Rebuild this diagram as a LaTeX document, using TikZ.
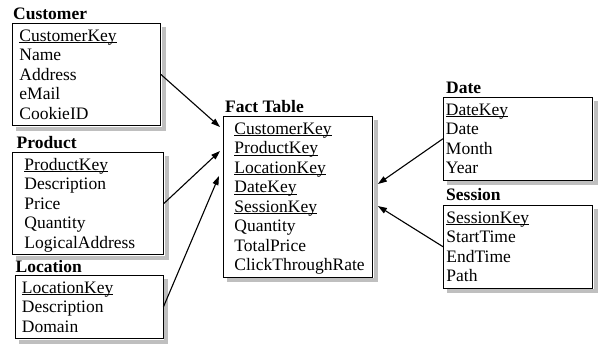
\documentclass[tikz,border=0pt]{standalone}
\usepackage{fontspec}
\setmainfont{Liberation Serif}
\usetikzlibrary{arrows.meta,calc}

\newcommand{\keyattr}[1]{\leavevmode\setbox0\hbox{#1}\rlap{\rule[-1.6bp]{\wd0}{0.8bp}}\box0}
\newcommand{\fstline}{\rule{0pt}{18bp}}
\newcommand{\lstline}{\rule[-6bp]{0pt}{6bp}}

\begin{document}
\begin{tikzpicture}[x=1bp,y=-1bp,
    tbl/.style = {draw, fill=white, line width=0.9bp, anchor=north west, align=left,
      inner ysep=0pt, font=\fontsize{17.5bp}{19.5bp}\selectfont},
    title/.style = {anchor=base west, inner sep=0pt, font=\fontsize{17.5bp}{19.5bp}\selectfont\bfseries},
    shadowfill/.style = {fill=black!25, draw=none},
    link/.style = {line width=1.1bp, -{Triangle[length=9bp,width=6bp]}}]
      \useasboundingbox (0,0) rectangle (601,344);

      \node[title] (customer-t) at (13,19) {Customer};
      \node[tbl, inner xsep=7bp, text width=134bp] (customer) at (12,23)
        {\fstline\keyattr{CustomerKey}\\Name\\Address\\eMail\\CookieID\lstline};

      \node[title] (product-t) at (16.5,148) {Product};
      \node[tbl, inner xsep=12bp, text width=127bp] (product) at (12,152)
        {\fstline\keyattr{ProductKey}\\Description\\Price\\Quantity\\LogicalAddress\lstline};

      \node[title] (location-t) at (15.5,272) {Location};
      \node[tbl, inner xsep=7bp, text width=134bp] (location) at (14.5,275)
        {\fstline\keyattr{LocationKey}\\Description\\Domain\lstline};

      \node[title] (fact-t) at (225,112) {Fact Table};
      \node[tbl, inner xsep=11bp, text width=127bp] (fact) at (223,116)
        {\fstline\keyattr{CustomerKey}\\\keyattr{ProductKey}\\\keyattr{LocationKey}\\\keyattr{DateKey}\\\keyattr{SessionKey}\\Quantity\\TotalPrice\\ClickThroughRate\lstline};

      \node[title] (date-t) at (446,93) {Date};
      \node[tbl, inner xsep=2.5bp, text width=144bp] (date) at (443,97)
        {\fstline\keyattr{DateKey}\\Date\\Month\\Year\lstline};

      \node[title] (session-t) at (446,200) {Session};
      \node[tbl, inner xsep=3bp, text width=143bp] (session) at (443,205)
        {\fstline\keyattr{SessionKey}\\StartTime\\EndTime\\Path\lstline};

      % grey shadow at the right and below each table
      \foreach \tb in {customer,product,location,fact,date,session}{
        \fill[shadowfill] ([xshift=1bp,yshift=-4bp]\tb.north east) rectangle ([xshift=5bp,yshift=-5bp]\tb.south east);
        \fill[shadowfill] ([xshift=4bp,yshift=-1bp]\tb.south west) rectangle ([xshift=5bp,yshift=-5bp]\tb.south east);
      }

      \coordinate (in-customer) at ($(fact.north west)+(-3,11)$);
      \coordinate (in-product) at ($(fact.north west)+(-3,35)$);
      \coordinate (in-location) at ($(fact.north west)+(-4,60)$);
      \coordinate (in-date) at ($(fact.north east)+(5,68)$);
      \coordinate (in-session) at ($(fact.north east)+(5,90)$);

      \draw[link] (customer.east) to (in-customer);
      \draw[link] (product.east) to (in-product);
      \draw[link] (location.east) to (in-location);
      \draw[link] (date.west) to (in-date);
      \draw[link] (session.west) to (in-session);

    \end{tikzpicture}
\end{document}
